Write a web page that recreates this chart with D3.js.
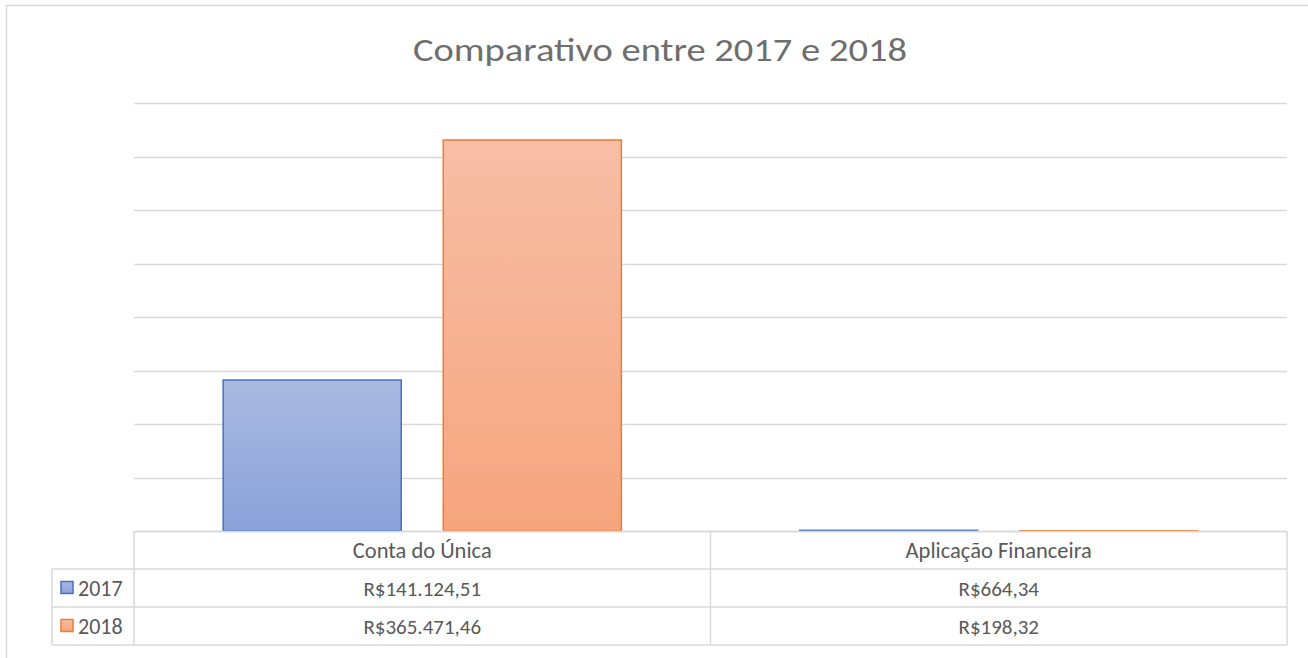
<!DOCTYPE html>
<html>
<head>
<meta charset="utf-8">
<script src="https://cdn.jsdelivr.net/npm/d3@7"></script>
<style>
  body { margin: 0; background: #fff; }
  svg text { font-family: Calibri, "Open Sans", "Noto Sans", sans-serif; fill: #595959; }
</style>
</head>
<body>
<div id="chart"></div>
<script>
// chart data
const categories = ["Conta do Única", "Aplicação Financeira"];
const seriesNames = ["2017", "2018"];
const values2017 = [141124.51, 664.34];
const values2018 = [365471.46, 198.32];
const labels2017 = ["R$141.124,51", "R$664,34"];
const labels2018 = ["R$365.471,46", "R$198,32"];
const yTicks = [0, 50000, 100000, 150000, 200000, 250000, 300000, 350000, 400000];

const chartW = 1308, chartH = 658;
const plotLeft = 134, plotRight = 1287, plotTop = 103, plotBase = 531;
const rowH = 38;

const svg = d3.select("#chart").append("svg")
    .attr("width", chartW)
    .attr("height", chartH);

// gradients for the bars
const defs = svg.append("defs");
function grad(id, c1, c2) {
    const g = defs.append("linearGradient").attr("id", id)
        .attr("x1", 0).attr("y1", 0).attr("x2", 0).attr("y2", 1);
    g.append("stop").attr("offset", "0%").attr("stop-color", c1);
    g.append("stop").attr("offset", "100%").attr("stop-color", c2);
}
grad("g2017", "#aab9e1", "#8aa2d9");
grad("g2018", "#f7bea6", "#f6a57e");

const fills = { "2017": "url(#g2017)", "2018": "url(#g2018)" };
const strokes = { "2017": "#4472c4", "2018": "#ed7d31" };

// outer chart frame
svg.append("rect")
    .attr("x", 6.5).attr("y", 5.5)
    .attr("width", chartW + 10).attr("height", chartH + 10)
    .attr("fill", "none").attr("stroke", "#d9d9d9").attr("stroke-width", 1.5);

// title (light look)
svg.append("text")
    .attr("x", 660).attr("y", 61)
    .attr("text-anchor", "middle")
    .style("font-size", "33px")
    .style("font-weight", 300)
    .style("fill", "#6e6e6e")
    .attr("textLength", 494)
    .attr("lengthAdjust", "spacingAndGlyphs")
    .text("Comparativo entre 2017 e 2018");

const y = d3.scaleLinear().domain([0, 400000]).range([plotBase, plotTop]);
const x0 = d3.scaleBand().domain(categories).range([plotLeft, plotRight]);
const x1 = d3.scaleBand().domain(seriesNames).range([0, x0.bandwidth()])
    .paddingInner(0.191).paddingOuter(0.405);

// gridlines
svg.append("g").selectAll("line")
    .data(yTicks)
    .enter().append("line")
    .attr("x1", plotLeft).attr("x2", plotRight)
    .attr("y1", d => Math.round(y(d)) + 0.5)
    .attr("y2", d => Math.round(y(d)) + 0.5)
    .attr("stroke", "#d9d9d9").attr("stroke-width", 1.5);

// bars
const rows = categories.map((c, i) => ({
    cat: c,
    vals: [{ s: "2017", v: values2017[i] }, { s: "2018", v: values2018[i] }]
}));

svg.append("g").selectAll("g")
    .data(rows)
    .enter().append("g")
    .attr("transform", d => `translate(${x0(d.cat)},0)`)
    .selectAll("rect")
    .data(d => d.vals)
    .enter().append("rect")
    .attr("x", d => x1(d.s))
    .attr("y", d => y(d.v))
    .attr("width", x1.bandwidth())
    .attr("height", d => plotBase - y(d.v))
    .attr("fill", d => fills[d.s])
    .attr("stroke", d => strokes[d.s])
    .attr("stroke-width", 1.5);

// data table
const tbl = svg.append("g");
const lineColor = "#d9d9d9";
function hline(xa, xb, yy) {
    tbl.append("line").attr("x1", xa).attr("x2", xb).attr("y1", yy).attr("y2", yy)
        .attr("stroke", lineColor).attr("stroke-width", 1.5);
}
function vline(xx, ya, yb) {
    tbl.append("line").attr("x1", xx).attr("x2", xx).attr("y1", ya).attr("y2", yb)
        .attr("stroke", lineColor).attr("stroke-width", 1.5);
}
const legendLeft = 52;
hline(plotLeft, plotRight, plotBase + 0.5);
hline(legendLeft, plotRight, plotBase + rowH);
hline(legendLeft, plotRight, plotBase + rowH * 2);
hline(legendLeft, plotRight, plotBase + rowH * 3);
vline(legendLeft, plotBase + rowH, plotBase + rowH * 3);
vline(plotLeft, plotBase, plotBase + rowH * 3);
categories.forEach(c => vline(x0(c) + x0.bandwidth(), plotBase, plotBase + rowH * 3));

// category header
tbl.selectAll(".cat")
    .data(categories)
    .enter().append("text")
    .attr("x", d => x0(d) + x0.bandwidth() / 2)
    .attr("y", plotBase + rowH / 2 + 7.5)
    .attr("text-anchor", "middle")
    .style("font-size", "22.5px")
    .text(d => d);

const tableRows = [
    { s: "2017", labels: labels2017 },
    { s: "2018", labels: labels2018 }
];
tableRows.forEach((r, ri) => {
    const cy = plotBase + rowH * (ri + 1) + rowH / 2;
    tbl.append("rect")
        .attr("x", 61).attr("y", cy - 6.5)
        .attr("width", 12).attr("height", 12)
        .attr("fill", fills[r.s]).attr("stroke", strokes[r.s]).attr("stroke-width", 1.5);
    tbl.append("text")
        .attr("x", 78).attr("y", cy + 7.5)
        .style("font-size", "22px")
        .text(r.s);
    categories.forEach((c, ci) => {
        tbl.append("text")
            .attr("x", x0(c) + x0.bandwidth() / 2)
            .attr("y", cy + 7.5)
            .attr("text-anchor", "middle")
            .style("font-size", "21px")
            .text(r.labels[ci]);
    });
});
</script>
</body>
</html>
